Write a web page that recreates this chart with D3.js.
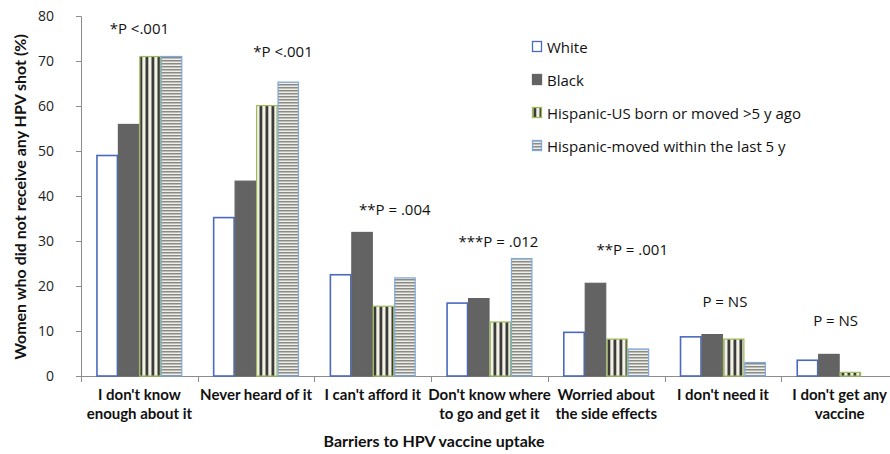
<!DOCTYPE html>
<html><head><meta charset="utf-8">
<script src="https://cdn.jsdelivr.net/npm/d3@7/dist/d3.min.js"></script>
<style>body{margin:0;background:#fff}</style>
</head><body><svg id="c" width="890" height="454"></svg>
<script>
const categories = [["I don't know","enough about it"],["Never heard of it"],["I can't afford it"],["Don't know where","to go and get it"],["Worried about","the side effects"],["I don't need it"],["I don't get any","vaccine"]];
const seriesNames = ["White","Black","Hispanic-US born or moved >5 y ago","Hispanic-moved within the last 5 y"];
const white = [49, 35.2, 22.5, 16.2, 9.7, 8.7, 3.5];
const black = [55.9, 43.3, 31.9, 17.2, 20.6, 9.2, 4.8];
const hispUS = [71, 60.1, 15.5, 12, 8.2, 8.2, 0.8];
const hispNew = [71, 65.3, 21.8, 26.1, 6, 3, 0];
const pLabels = ["*P <.001","*P <.001","**P = .004","***P = .012","**P = .001","P = NS","P = NS"];
const yTicks = [0,10,20,30,40,50,60,70,80];
// annotation placement (value-axis height, horizontal offset from group centre in px)
const pLabelY = [76, 70.9, 35.8, 28.7, 26.9, 15.3, 11.1];
const pLabelDx = [0, 27, 22, 9, 26, 2, -4];

const svg = d3.select("#c");
const m = {l:81, t:16, r:898, b:376};
const defs = svg.append("defs");
const pv = defs.append("pattern").attr("id","pv").attr("patternUnits","userSpaceOnUse").attr("width",6).attr("height",6);
pv.append("rect").attr("width",6).attr("height",6).attr("fill","#f2f1e4");
pv.append("rect").attr("x",1.5).attr("width",2.8).attr("height",6).attr("fill","#3b3b3b");
const ph = defs.append("pattern").attr("id","ph").attr("patternUnits","userSpaceOnUse").attr("width",6).attr("height",3);
ph.append("rect").attr("width",6).attr("height",3).attr("fill","#eeeee6");
ph.append("rect").attr("y",0).attr("width",6).attr("height",1.5).attr("fill","#8a8a86");

const fills = ["#ffffff","#636363","url(#pv)","url(#ph)"];
const strokes = ["#4a6ac0","#636363","#9cbb5a","#7fa8dc"];
const data = [white, black, hispUS, hispNew];

const x0 = d3.scaleBand().domain(d3.range(categories.length)).range([m.l, m.r]).paddingInner(0).paddingOuter(0);
const x1 = d3.scaleBand().domain(d3.range(4)).range([0, x0.bandwidth()]).paddingOuter(0.72).paddingInner(0);
const y = d3.scaleLinear().domain([0,80]).range([m.b, m.t]);

const sans = "'Open Sans', 'DejaVu Sans', sans-serif";
const cal = "Lato, 'Open Sans', sans-serif";

// axes
const yAxis = svg.append("g").attr("transform",`translate(${m.l},0)`)
  .call(d3.axisLeft(y).tickValues(yTicks).tickSize(5).tickPadding(22));
yAxis.select(".domain").attr("stroke","#8c8c8c");
yAxis.selectAll(".tick line").attr("stroke","#8c8c8c");
yAxis.selectAll("text").attr("font-family",sans).attr("font-size",14).attr("fill","#222");

const xAxisG = svg.append("g");
xAxisG.append("line").attr("x1",m.l).attr("x2",m.r).attr("y1",m.b+0.5).attr("y2",m.b+0.5).attr("stroke","#8c8c8c");
const bounds = d3.range(categories.length+1).map(i => i < categories.length ? x0(i) : x0(i-1)+x0.bandwidth());
xAxisG.selectAll("line.t").data(bounds).join("line").attr("class","t")
  .attr("x1",d=>Math.round(d)+0.5).attr("x2",d=>Math.round(d)+0.5).attr("y1",m.b).attr("y2",m.b+6).attr("stroke","#8c8c8c");

// bars
const g = svg.append("g");
data.forEach((vals, s) => {
  g.selectAll(null).data(vals).join("rect")
    .attr("x",(d,i)=>x0(i)+x1(s)+0.5)
    .attr("y",d=>y(d))
    .attr("width",x1.bandwidth()-1)
    .attr("height",d=>Math.max(0,m.b-y(d)))
    .attr("fill",fills[s])
    .attr("stroke",d=>d>0?strokes[s]:"none")
    .attr("stroke-width",s===0?1.6:1.2);
});

// p labels
svg.selectAll("text.p").data(pLabels).join("text").attr("class","p")
  .attr("x",(d,i)=>x0(i)+x0.bandwidth()/2+pLabelDx[i])
  .attr("y",(d,i)=>y(pLabelY[i]))
  .attr("text-anchor","middle")
  .attr("font-family",sans).attr("font-size",15).attr("fill","#111")
  .text(d=>d);

// category labels
const cl = svg.selectAll("text.c").data(categories).join("text").attr("class","c")
  .attr("text-anchor","middle")
  .attr("font-family",cal).attr("font-weight","bold").attr("font-size",15).attr("fill","#111");
cl.each(function(d,i){
  const t = d3.select(this);
  d.forEach((line,j)=>t.append("tspan").attr("x",x0(i)+x0.bandwidth()/2).attr("y",400+j*19).text(line));
});

// axis titles
svg.append("text").attr("x",434).attr("y",447).attr("text-anchor","middle")
  .attr("font-family",cal).attr("font-weight","bold").attr("font-size",16).attr("fill","#111")
  .text("Barriers to HPV vaccine uptake");
svg.append("text").attr("transform","translate(26,197) rotate(-90)").attr("text-anchor","middle")
  .attr("font-family",cal).attr("font-weight","bold").attr("font-size",16).attr("fill","#111")
  .text("Women who did not receive any HPV shot (%)");

// legend
const lg = svg.append("g").attr("transform","translate(532,47)");
seriesNames.forEach((n,i)=>{
  const r = lg.append("g").attr("transform",`translate(0,${i*33})`);
  r.append("rect").attr("x",0.5).attr("y",-5.5).attr("width",9).attr("height",10).attr("fill",fills[i]).attr("stroke",strokes[i]).attr("stroke-width",1.3);
  r.append("text").attr("x",15).attr("y",5.5).attr("font-family",sans).attr("font-size",15).attr("fill","#111").text(n);
});
</script></body></html>
